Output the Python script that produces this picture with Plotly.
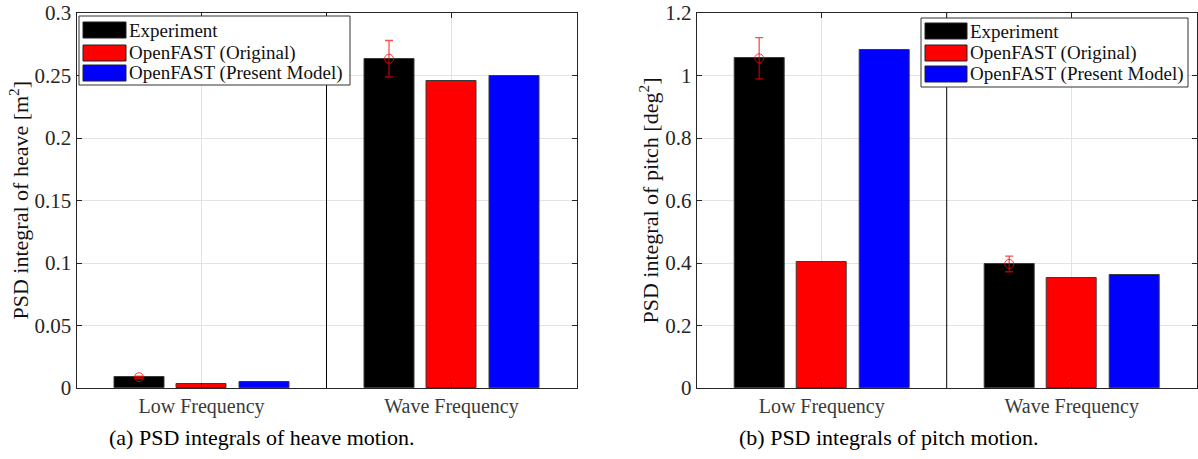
import plotly.graph_objects as go
from plotly.subplots import make_subplots

# ---------------- data ----------------
categories = ["Low Frequency", "Wave Frequency"]
series_names = ["Experiment", "OpenFAST (Original)", "OpenFAST (Present Model)"]
series_colors = ["#000000", "#ff0000", "#0000ff"]

heave_experiment = [0.0086, 0.2634]
heave_original = [0.0035, 0.2458]
heave_present = [0.0052, 0.2498]
heave_exp_err = [0.0008, 0.0146]

pitch_experiment = [1.055, 0.397]
pitch_original = [0.403, 0.353]
pitch_present = [1.082, 0.362]
pitch_exp_err = [0.066, 0.025]

heave_ticks = [0, 0.05, 0.1, 0.15, 0.2, 0.25, 0.3]
heave_ticklabels = ["0", "0.05", "0.1", "0.15", "0.2", "0.25", "0.3"]
pitch_ticks = [0, 0.2, 0.4, 0.6, 0.8, 1.0, 1.2]
pitch_ticklabels = ["0", "0.2", "0.4", "0.6", "0.8", "1", "1.2"]

heave_ylabel = "PSD integral of heave [m<sup>2</sup>]"
pitch_ylabel = "PSD integral of pitch [deg<sup>2</sup>]"
caption_a = "(a) PSD integrals of heave motion."
caption_b = "(b) PSD integrals of pitch motion."

# ---------------- layout constants ----------------
W, H = 1198, 459
M_T, M_B = 13, 71
PLOT_H = H - M_T - M_B
SERIF = "Liberation Serif"
AX = "#262626"
GRID = "#e3e3e3"

def px_x(p):
    return p / W

def px_y(p):
    return (H - M_B - p) / PLOT_H

left_dom = [px_x(76.5), px_x(576.5)]
right_dom = [px_x(696.7), px_x(1196.7)]

fig = make_subplots(rows=1, cols=2, horizontal_spacing=0.0)
fig.update_xaxes(domain=left_dom, row=1, col=1)
fig.update_xaxes(domain=right_dom, row=1, col=2)

positions = [i + 1 for i in range(len(categories))]
offsets = [-0.25, 0.0, 0.25]
bar_w = 0.2

panels = [
    (1, [heave_experiment, heave_original, heave_present], heave_exp_err),
    (2, [pitch_experiment, pitch_original, pitch_present], pitch_exp_err),
]

for col, vals, err in panels:
    for k, (name, color, v) in enumerate(zip(series_names, series_colors, vals)):
        fig.add_trace(
            go.Bar(
                x=[p + offsets[k] for p in positions],
                y=v,
                width=bar_w,
                name=name,
                marker=dict(color=color, line=dict(color="#3a3a3a", width=1)),
                showlegend=False,
            ),
            row=1, col=col,
        )
    fig.add_trace(
        go.Scatter(
            x=[p + offsets[0] for p in positions],
            y=vals[0],
            mode="markers",
            marker=dict(symbol="circle-open", size=9, color="rgba(255,0,0,0.75)",
                        line=dict(width=1)),
            error_y=dict(type="data", array=err, visible=True,
                         color="rgba(255,0,0,0.7)", thickness=1.3, width=4),
            showlegend=False,
        ),
        row=1, col=col,
    )

common_x = dict(
    range=[0.5, len(categories) + 0.5],
    tickvals=positions,
    ticktext=categories,
    ticks="inside",
    ticklen=5,
    tickcolor=AX,
    showline=True,
    linecolor=AX,
    linewidth=1,
    mirror="ticks",
    showgrid=True,
    gridcolor=GRID,
    zeroline=False,
    tickfont=dict(family=SERIF, size=20, color="#3a3a3a"),
)
fig.update_xaxes(**common_x)

common_y = dict(
    ticks="inside",
    ticklen=5,
    tickcolor=AX,
    showline=True,
    linecolor=AX,
    linewidth=1,
    mirror="ticks",
    showgrid=True,
    gridcolor=GRID,
    zeroline=False,
    tickfont=dict(family=SERIF, size=21, color=AX),
)
fig.update_yaxes(**common_y)
fig.update_yaxes(range=[0, 0.3], tickvals=heave_ticks, ticktext=heave_ticklabels, row=1, col=1)
fig.update_yaxes(range=[0, 1.2], tickvals=pitch_ticks, ticktext=pitch_ticklabels, row=1, col=2)

shapes = []
annotations = []

# group separator line between categories
for xref, yref, ymax in [("x", "y", 0.3), ("x2", "y2", 1.2)]:
    mid = (positions[0] + positions[1]) / 2
    shapes.append(dict(type="line", xref=xref, yref=yref,
                       x0=mid, x1=mid, y0=0, y1=ymax,
                       line=dict(color="#000000", width=1)))

# custom legends (MATLAB-style wide patches)
def add_legend(box, sw_x, rows, text_x):
    x0, y0, x1, y1 = box
    shapes.append(dict(type="rect", xref="paper", yref="paper",
                       x0=px_x(x0), x1=px_x(x1), y0=px_y(y0), y1=px_y(y1),
                       line=dict(color="#333333", width=1), fillcolor="white", layer="above"))
    for (ra, rb), name, color in zip(rows, series_names, series_colors):
        shapes.append(dict(type="rect", xref="paper", yref="paper",
                           x0=px_x(sw_x[0]), x1=px_x(sw_x[1]), y0=px_y(ra), y1=px_y(rb),
                           line=dict(color="#222222", width=1), fillcolor=color, layer="above"))
        annotations.append(dict(text=name, xref="paper", yref="paper",
                                x=px_x(text_x), y=px_y((ra + rb) / 2),
                                xanchor="left", yanchor="middle", showarrow=False,
                                font=dict(family=SERIF, size=19, color="#111111")))

add_legend((79, 16, 350, 85), (83, 126), [(22, 38), (45, 61), (65, 81)], 127)
add_legend((921, 18, 1188, 87), (925, 967), [(23, 39), (45, 61), (66, 82)], 968)

# y-axis labels
for text, xp in [(heave_ylabel, 18), (pitch_ylabel, 648)]:
    annotations.append(dict(text=text, xref="paper", yref="paper", x=px_x(xp), y=0.5,
                            xanchor="center", yanchor="middle", textangle=-90, showarrow=False,
                            font=dict(family=SERIF, size=22, color="#111111")))

# captions
for text, xp in [(caption_a, 262), (caption_b, 888)]:
    annotations.append(dict(text=text, xref="paper", yref="paper", x=px_x(xp), y=px_y(437),
                            xanchor="center", yanchor="middle", showarrow=False,
                            font=dict(family=SERIF, size=22, color="#000000")))

fig.update_layout(
    width=W, height=H,
    margin=dict(l=0, r=0, t=M_T, b=M_B),
    paper_bgcolor="white",
    plot_bgcolor="white",
    bargap=0,
    shapes=shapes,
    annotations=annotations,
    showlegend=False,
)

fig.write_html("out.html")
